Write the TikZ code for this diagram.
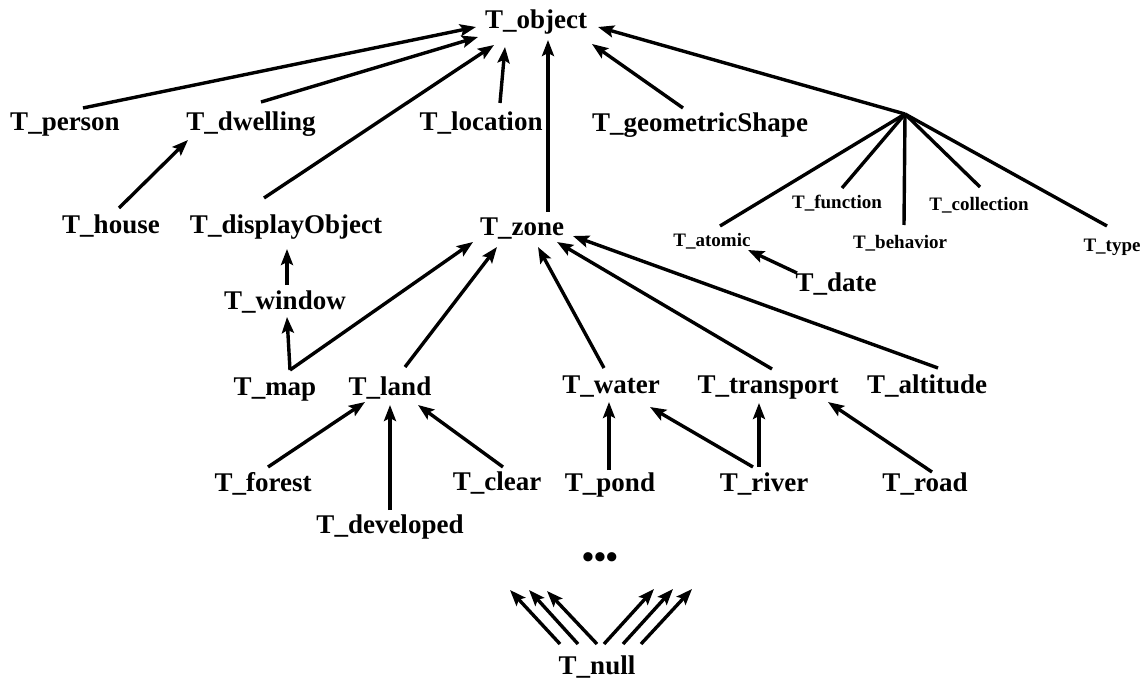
\documentclass[tikz,border=0pt]{standalone}
\usepackage{fontspec}
\setmainfont{Liberation Serif}
\usetikzlibrary{arrows.meta}
\begin{document}
\begin{tikzpicture}[x=1pt,y=-1pt,
  lbl/.style={font=\fontsize{27}{30}\selectfont\bfseries, inner sep=0pt, text height=18pt, text depth=0pt},
  sm/.style={font=\fontsize{19}{21}\selectfont\bfseries, inner sep=0pt, text height=12.5pt, text depth=0pt},
  arr/.style={line width=3.4pt, -{Stealth[length=16pt,width=12pt,inset=3pt]}},
  ln/.style={line width=3.4pt}]
\fill[white] (0,0) rectangle (1146,679);
\useasboundingbox (0,0) rectangle (1146,679);
% nodes
\node[lbl] (object) at (536,20) {T\_object};
\node[lbl] (person) at (65,122) {T\_person};
\node[lbl] (dwelling) at (251,122) {T\_dwelling};
\node[lbl] (location) at (481,122) {T\_location};
\node[lbl] (geo) at (700,123) {T\_geometricShape};
\node[lbl] (house) at (111,225) {T\_house};
\node[lbl] (display) at (286,225) {T\_displayObject};
\node[lbl] (zone) at (522,227) {T\_zone};
\node[lbl] (window) at (285,300) {T\_window};
\node[lbl] (map) at (275,386) {T\_map};
\node[lbl] (land) at (390,386) {T\_land};
\node[lbl] (water) at (611,384) {T\_water};
\node[lbl] (transport) at (768,384) {T\_transport};
\node[lbl] (altitude) at (927,384) {T\_altitude};
\node[lbl] (forest) at (263,482) {T\_forest};
\node[lbl] (developed) at (390,524) {T\_developed};
\node[lbl] (clear) at (497,481) {T\_clear};
\node[lbl] (pond) at (610,482) {T\_pond};
\node[lbl] (river) at (764,482) {T\_river};
\node[lbl] (road) at (925,482) {T\_road};
\node[lbl] (date) at (836,282) {T\_date};
\node[lbl] (null) at (597,665) {T\_null};
\node[lbl, font=\fontsize{34}{36}\selectfont\bfseries, text height=11pt] (dots) at (600,563) {•••};
\node[sm] (function) at (837,202) {T\_function};
\node[sm] (collection) at (979,204) {T\_collection};
\node[sm] (atomic) at (712,240) {T\_atomic};
\node[sm] (behavior) at (900,242) {T\_behavior};
\node[sm] (type) at (1112,245) {T\_type};
\coordinate (hub) at (905,114);
% free ends of T_null arrows
\coordinate (n1) at (510,590);
\coordinate (n2) at (529,590);
\coordinate (n3) at (547,591);
\coordinate (n4) at (654,589);
\coordinate (n5) at (673,589);
\coordinate (n6) at (692,589);
% edges to T_object
\draw[arr] ([shift={(18,-14)}]person.center) -- ([shift={(-60,7)}]object.center);
\draw[arr] ([shift={(10,-20)}]dwelling.center) -- ([shift={(-58,17)}]object.center);
\draw[arr] ([shift={(-22,-27)}]display.center) -- ([shift={(-42,25)}]object.center);
\draw[arr] ([shift={(19,-19)}]location.center) -- ([shift={(-31,27)}]object.center);
\draw[arr] ([shift={(26,-15)}]zone.center) -- ([shift={(12,20)}]object.center);
\draw[arr] ([shift={(-17,-15)}]geo.center) -- ([shift={(56,24)}]object.center);
\draw[arr] (hub) -- ([shift={(62,7)}]object.center);
% hub fan
\draw[ln] (hub) -- ([shift={(8,-14)}]atomic.center);
\draw[ln] (hub) -- ([shift={(5,-14)}]function.center);
\draw[ln] (hub) -- ([shift={(4,-17)}]behavior.center);
\draw[ln] (hub) -- ([shift={(1,-17)}]collection.center);
\draw[ln] (hub) -- ([shift={(-5,-19)}]type.center);
\draw[arr] ([shift={(-39,-9)}]date.center) -- ([shift={(36,10)}]atomic.center);
% middle
\draw[arr] ([shift={(8,-17)}]house.center) -- ([shift={(-63,18)}]dwelling.center);
\draw[arr] ([shift={(2,-15)}]window.center) -- ([shift={(1,24)}]display.center);
\draw[arr] ([shift={(15,-16)}]map.center) -- ([shift={(2,17)}]window.center);
\draw[arr] ([shift={(15,-16)}]map.center) -- ([shift={(-49,15)}]zone.center);
\draw[arr] ([shift={(15,-19)}]land.center) -- ([shift={(-25,20)}]zone.center);
\draw[arr] ([shift={(-7,-16)}]water.center) -- ([shift={(16,20)}]zone.center);
\draw[arr] ([shift={(4,-15)}]transport.center) -- ([shift={(35,15)}]zone.center);
\draw[arr] ([shift={(11,-16)}]altitude.center) -- ([shift={(51,9)}]zone.center);
% lower
\draw[arr] ([shift={(5,-15)}]forest.center) -- ([shift={(-25,16)}]land.center);
\draw[arr] ([shift={(0,-14)}]developed.center) -- ([shift={(0,19)}]land.center);
\draw[arr] ([shift={(6,-14)}]clear.center) -- ([shift={(28,19)}]land.center);
\draw[arr] ([shift={(-1,-12)}]pond.center) -- ([shift={(-2,18)}]water.center);
\draw[arr] ([shift={(-11,-15)}]river.center) -- ([shift={(39,23)}]water.center);
\draw[arr] ([shift={(-5,-15)}]river.center) -- ([shift={(-9,19)}]transport.center);
\draw[arr] ([shift={(7,-10)}]road.center) -- ([shift={(60,18)}]transport.center);
% T_null
\draw[arr] ([shift={(-37,-21)}]null.center) -- (n1);
\draw[arr] ([shift={(-19,-21)}]null.center) -- (n2);
\draw[arr] ([shift={(0,-21)}]null.center) -- (n3);
\draw[arr] ([shift={(7,-21)}]null.center) -- (n4);
\draw[arr] ([shift={(26,-21)}]null.center) -- (n5);
\draw[arr] ([shift={(44,-21)}]null.center) -- (n6);
\end{tikzpicture}
\end{document}
